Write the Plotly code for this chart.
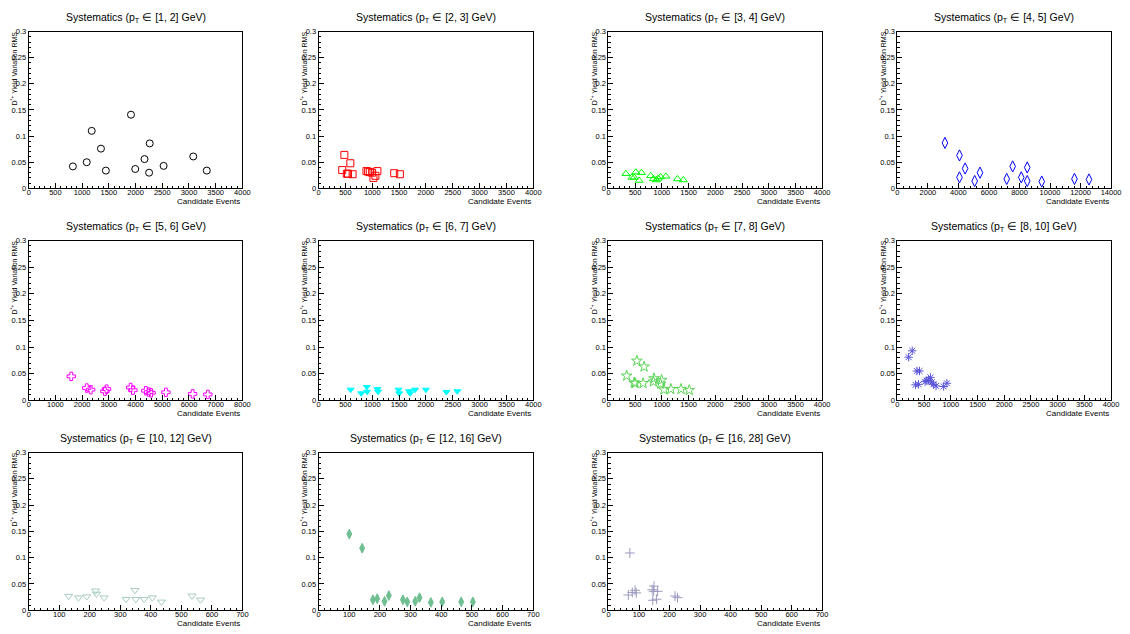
import plotly.graph_objects as go

W, H = 1130, 634

# ---------------- data ----------------
pt_bins = ["[1, 2]", "[2, 3]", "[3, 4]", "[4, 5]", "[5, 6]", "[6, 7]",
           "[7, 8]", "[8, 10]", "[10, 12]", "[12, 16]", "[16, 28]"]

x_pt1 = [827, 1086, 1179, 1352, 1444, 1914, 1994, 2167, 2253, 2265, 2525, 3080, 3333]
y_pt1 = [0.042, 0.050, 0.110, 0.076, 0.034, 0.141, 0.037, 0.056, 0.030, 0.086, 0.043, 0.061, 0.034]

x_pt2 = [440, 480, 526, 548, 591, 634, 892, 923, 954, 997, 1022, 1058, 1095, 1409, 1514]
y_pt2 = [0.035, 0.064, 0.028, 0.028, 0.048, 0.027, 0.033, 0.032, 0.031, 0.030, 0.020, 0.024, 0.033, 0.029, 0.027]

x_pt3 = [327, 438, 480, 512, 574, 617, 790, 840, 895, 932, 975, 1074, 1290, 1401]
y_pt3 = [0.028, 0.021, 0.021, 0.031, 0.015, 0.030, 0.024, 0.018, 0.016, 0.019, 0.022, 0.023, 0.018, 0.016]

x_pt4 = [3116, 4068, 4068, 4436, 5064, 5410, 7163, 7552, 8115, 8505, 8505, 9457, 11600, 12551]
y_pt4 = [0.087, 0.063, 0.021, 0.038, 0.014, 0.030, 0.018, 0.042, 0.021, 0.040, 0.014, 0.013, 0.018, 0.017]

x_pt5 = [1593, 2173, 2321, 2852, 2914, 3815, 3901, 4383, 4494, 4580, 5136, 6136, 6704]
y_pt5 = [0.045, 0.023, 0.020, 0.017, 0.021, 0.024, 0.019, 0.018, 0.0155, 0.014, 0.015, 0.012, 0.011]

x_pt6 = [597, 794, 898, 905, 1095, 1108, 1489, 1502, 1686, 1705, 1797, 2000, 2382, 2585]
y_pt6 = [0.020, 0.013, 0.025, 0.016, 0.021, 0.016, 0.020, 0.013, 0.017, 0.013, 0.020, 0.020, 0.0155, 0.017]

x_pt7 = [340, 481, 500, 531, 648, 667, 840, 852, 975, 994, 1037, 1167, 1358, 1512]
y_pt7 = [0.046, 0.033, 0.032, 0.074, 0.032, 0.063, 0.035, 0.041, 0.031, 0.038, 0.020, 0.021, 0.021, 0.019]

x_pt8 = [210, 278, 340, 365, 396, 414, 519, 550, 581, 618, 643, 674, 723, 866, 927]
y_pt8 = [0.081, 0.093, 0.029, 0.055, 0.030, 0.055, 0.035, 0.037, 0.038, 0.043, 0.034, 0.030, 0.027, 0.026, 0.032]

x_pt9 = [131, 163, 190, 219, 222, 247, 319, 348, 351, 378, 405, 435, 535, 563]
y_pt9 = [0.027, 0.024, 0.026, 0.037, 0.031, 0.024, 0.021, 0.038, 0.021, 0.021, 0.024, 0.016, 0.0275, 0.020]

x_pt10 = [100, 142, 177, 191, 215, 229, 275, 289, 315, 329, 366, 403, 465, 503]
y_pt10 = [0.145, 0.118, 0.020, 0.022, 0.017, 0.028, 0.020, 0.016, 0.017, 0.024, 0.015, 0.016, 0.016, 0.016]

x_pt11 = [65, 70, 78, 87, 91, 143, 145, 148, 149, 157, 161, 218, 226]
y_pt11 = [0.029, 0.109, 0.034, 0.038, 0.033, 0.039, 0.019, 0.036, 0.046, 0.021, 0.036, 0.027, 0.024]

x_max = [4000, 4000, 4000, 14000, 8000, 4000, 4000, 4000, 700, 700, 700]
x_dtick = [500, 500, 500, 2000, 1000, 500, 500, 500, 100, 100, 100]
x_minor = [100, 100, 100, 400, 200, 100, 100, 100, 20, 20, 20]

y_tickvals = [0, 0.05, 0.1, 0.15, 0.2, 0.25, 0.3]
y_ticktext = ["0", "0.05", "0.1", "0.15", "0.2", "0.25", "0.3"]

xs = [x_pt1, x_pt2, x_pt3, x_pt4, x_pt5, x_pt6, x_pt7, x_pt8, x_pt9, x_pt10, x_pt11]
ys = [y_pt1, y_pt2, y_pt3, y_pt4, y_pt5, y_pt6, y_pt7, y_pt8, y_pt9, y_pt10, y_pt11]

# ---------------- styles ----------------
colors = ["#000000", "#ff0000", "#00ff00", "#0000ff", "#ff00ff", "#00ffff",
          "#59d454", "#5954d8", "#a8cbc3", "#6fbf93", "#9c9abf"]
symbols = ["circle-open", "square-open", "triangle-up-open", "diamond-tall-open",
           "cross-open", "triangle-down", "star-open", "asterisk-open",
           "triangle-down-open", "diamond-tall", "cross-thin-open"]
sizes = [7, 7, 7, 8, 7, 6, 8, 7, 7, 7, 7]

col_px = [(27, 243), (320, 537), (613, 829), (905, 1121)]
row_px = [(28, 187), (240, 402), (455, 615)]

FONT = "Liberation Sans, Arial, Helvetica, sans-serif"

fig = go.Figure()
annotations = []
layout = {}
for i in range(11):
    r, c = divmod(i, 4)
    x0, x1 = col_px[c]
    yt, yb = row_px[r]
    n = "" if i == 0 else str(i + 1)
    fig.add_trace(go.Scatter(
        x=xs[i], y=ys[i], mode="markers",
        xaxis="x" + n, yaxis="y" + n,
        marker=dict(symbol=symbols[i], size=sizes[i], color=colors[i],
                    line=dict(color=colors[i], width=1)),
        showlegend=False, hoverinfo="x+y"))
    layout["xaxis" + n] = dict(
        domain=[x0 / W, x1 / W], anchor="y" + n, range=[0, x_max[i]],
        tickmode="linear", tick0=0, dtick=x_dtick[i], tickformat="d",
        ticks="inside", ticklen=5, tickwidth=1, tickcolor="black",
        ticklabelstandoff=-3,
        minor=dict(ticks="inside", ticklen=2.5, dtick=x_minor[i], tick0=0,
                   tickcolor="black", tickwidth=1),
        showline=True, linecolor="black", linewidth=1, mirror=True,
        showgrid=False, zeroline=False,
        tickfont=dict(family=FONT, size=7.5, color="black"))
    layout["yaxis" + n] = dict(
        domain=[1 - yb / H, 1 - yt / H], anchor="x" + n, range=[0, 0.3],
        tickmode="array", tickvals=y_tickvals, ticktext=y_ticktext,
        ticks="inside", ticklen=5, tickwidth=1, tickcolor="black",
        minor=dict(ticks="inside", ticklen=2.5, dtick=0.01, tick0=0,
                   tickcolor="black", tickwidth=1),
        showline=True, linecolor="black", linewidth=1, mirror=True,
        showgrid=False, zeroline=False,
        tickfont=dict(family=FONT, size=7.5, color="black"))
    # panel title
    annotations.append(dict(
        text="Systematics (p<sub>T</sub> \u2208 " + pt_bins[i] + " GeV)",
        xref="paper", yref="paper", x=(x0 + x1) / 2 / W, y=1 - (yt - 14) / H,
        xanchor="center", yanchor="middle", showarrow=False,
        font=dict(family=FONT, size=10.5, color="black")))
    # y title
    annotations.append(dict(
        text="D<sup>*+</sup> Yield Variation RMS",
        xref="paper", yref="paper", x=(x0 - 15) / W, y=1 - (yt - 2) / H,
        xanchor="center", yanchor="top", textangle=-90, showarrow=False,
        font=dict(family=FONT, size=7, color="black")))
    # x title
    annotations.append(dict(
        text="Candidate Events",
        xref="paper", yref="paper", x=x1 / W, y=1 - (yb + 13) / H,
        xanchor="right", yanchor="middle", showarrow=False,
        font=dict(family=FONT, size=8, color="black")))

fig.update_layout(**layout)
fig.update_layout(width=W, height=H, margin=dict(l=0, r=0, t=0, b=0),
                  paper_bgcolor="white", plot_bgcolor="white",
                  annotations=annotations, showlegend=False)
fig.write_html("out.html", config={"displayModeBar": False})
